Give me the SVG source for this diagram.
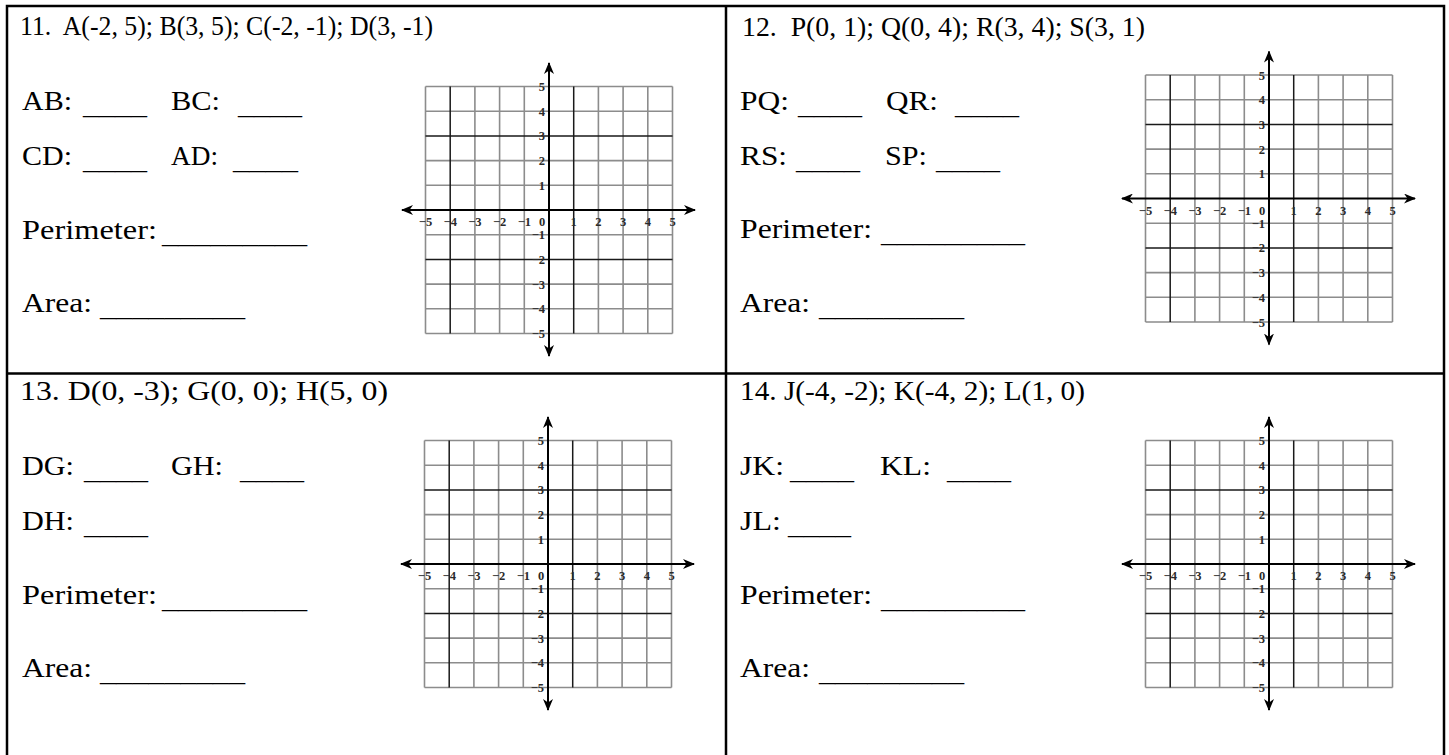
<svg xmlns="http://www.w3.org/2000/svg" xmlns:xlink="http://www.w3.org/1999/xlink" width="1449" height="755" viewBox="0 0 1449 755">
<style>
.h{font-family:"Liberation Serif","Times New Roman",serif;font-size:27px;fill:#000;white-space:pre}
.l{font-family:"Liberation Serif","Times New Roman",serif;font-size:26.5px;fill:#000}
.t{font-family:"Liberation Serif","Times New Roman",serif;font-size:12.5px;font-weight:bold;fill:#2a2a2a}
.tx{text-anchor:middle}
.ty{text-anchor:end}
.frame{fill:none;stroke:#000;stroke-width:2.5}
.gl{fill:none;stroke:#8c8c8c;stroke-width:1.6}
.gd{fill:none;stroke:#1a1a1a;stroke-width:1.5}
.ax{fill:none;stroke:#000;stroke-width:2;marker-start:url(#ah);marker-end:url(#ah)}
</style>
<defs>
<marker id="ah" viewBox="0 0 12 10" refX="11" refY="5" markerWidth="12" markerHeight="10" markerUnits="userSpaceOnUse" orient="auto-start-reverse">
<path d="M0,0 L12,5 L0,10 L3.5,5 Z" fill="#000"/>
</marker>
<g id="grid">
<path class="gl" d="M-123.5 -123.5V123.5M-74.1 -123.5V123.5M-49.4 -123.5V123.5M-24.7 -123.5V123.5M49.4 -123.5V123.5M74.1 -123.5V123.5M98.8 -123.5V123.5M123.5 -123.5V123.5M-123.5 -123.5H123.5M-123.5 -98.8H123.5M-123.5 -49.4H123.5M-123.5 -24.7H123.5M-123.5 24.7H123.5M-123.5 74.1H123.5M-123.5 98.8H123.5M-123.5 123.5H123.5"/>
<path class="gd" d="M-98.8 -123.5V123.5M24.7 -123.5V123.5M-123.5 -74.1H123.5M-123.5 49.4H123.5"/>
<path class="ax" d="M0 -147V146"/>
<path class="ax" d="M-147 0H146"/>
</g>
</defs>
<rect width="1449" height="755" fill="#fff"/>

<g id="frame">
<rect class="frame" x="7" y="6" width="1437" height="760"/>
<line class="frame" x1="726" y1="6" x2="726" y2="755"/>
<line class="frame" x1="7" y1="373.5" x2="1444" y2="373.5"/>
</g>

<!-- Panel 11 -->
<g id="p11">
<text class="h" x="20" y="35" xml:space="preserve" textLength="413" lengthAdjust="spacingAndGlyphs">11.  A(-2, 5); B(3, 5); C(-2, -1); D(3, -1)</text>
<text class="l" x="22" y="110" textLength="50" lengthAdjust="spacingAndGlyphs">AB:</text>
<text class="l" x="83" y="114" textLength="64" lengthAdjust="spacingAndGlyphs">____</text>
<text class="l" x="171" y="110" textLength="49" lengthAdjust="spacingAndGlyphs">BC:</text>
<text class="l" x="238" y="114" textLength="64" lengthAdjust="spacingAndGlyphs">____</text>
<text class="l" x="22" y="165" textLength="50" lengthAdjust="spacingAndGlyphs">CD:</text>
<text class="l" x="83" y="169" textLength="64" lengthAdjust="spacingAndGlyphs">____</text>
<text class="l" x="171" y="165" textLength="47" lengthAdjust="spacingAndGlyphs">AD:</text>
<text class="l" x="233" y="169" textLength="65" lengthAdjust="spacingAndGlyphs">____</text>
<text class="l" x="22" y="239" textLength="135" lengthAdjust="spacingAndGlyphs">Perimeter:</text>
<text class="l" x="162" y="243" textLength="145" lengthAdjust="spacingAndGlyphs">_________</text>
<text class="l" x="22" y="312" textLength="70" lengthAdjust="spacingAndGlyphs">Area:</text>
<text class="l" x="100" y="316" textLength="145" lengthAdjust="spacingAndGlyphs">_________</text>
<g transform="translate(549 210)">
<use xlink:href="#grid" href="#grid"/>
<text class="t tx" x="-123.5" y="16">−5</text><text class="t tx" x="-98.8" y="16">−4</text><text class="t tx" x="-74.1" y="16">−3</text><text class="t tx" x="-49.4" y="16">−2</text><text class="t tx" x="-24.7" y="16">−1</text><text class="t tx" x="-7" y="16">0</text><text class="t tx" x="24.7" y="16">1</text><text class="t tx" x="49.4" y="16">2</text><text class="t tx" x="74.1" y="16">3</text><text class="t tx" x="98.8" y="16">4</text><text class="t tx" x="123.5" y="16">5</text>
<text class="t ty" x="-4" y="-119">5</text><text class="t ty" x="-4" y="-94.3">4</text><text class="t ty" x="-4" y="-69.6">3</text><text class="t ty" x="-4" y="-44.9">2</text><text class="t ty" x="-4" y="-20.2">1</text><text class="t ty" x="-4" y="29.2">−1</text><text class="t ty" x="-4" y="53.9">−2</text><text class="t ty" x="-4" y="78.6">−3</text><text class="t ty" x="-4" y="103.3">−4</text><text class="t ty" x="-4" y="128">−5</text>
</g>
</g>

<!-- Panel 12 -->
<g id="p12">
<text class="h" x="742" y="36" xml:space="preserve" textLength="403" lengthAdjust="spacingAndGlyphs">12.  P(0, 1); Q(0, 4); R(3, 4); S(3, 1)</text>
<text class="l" x="740" y="110" textLength="49" lengthAdjust="spacingAndGlyphs">PQ:</text>
<text class="l" x="798" y="114" textLength="64" lengthAdjust="spacingAndGlyphs">____</text>
<text class="l" x="886" y="110" textLength="52" lengthAdjust="spacingAndGlyphs">QR:</text>
<text class="l" x="955" y="114" textLength="64" lengthAdjust="spacingAndGlyphs">____</text>
<text class="l" x="740" y="165" textLength="47" lengthAdjust="spacingAndGlyphs">RS:</text>
<text class="l" x="796" y="169" textLength="64" lengthAdjust="spacingAndGlyphs">____</text>
<text class="l" x="885" y="165" textLength="42" lengthAdjust="spacingAndGlyphs">SP:</text>
<text class="l" x="936" y="169" textLength="64" lengthAdjust="spacingAndGlyphs">____</text>
<text class="l" x="740" y="238" textLength="132" lengthAdjust="spacingAndGlyphs">Perimeter:</text>
<text class="l" x="881" y="242" textLength="144" lengthAdjust="spacingAndGlyphs">_________</text>
<text class="l" x="740" y="312" textLength="70" lengthAdjust="spacingAndGlyphs">Area:</text>
<text class="l" x="819" y="316" textLength="145" lengthAdjust="spacingAndGlyphs">_________</text>
<g transform="translate(1269 198.5)">
<use xlink:href="#grid" href="#grid"/>
<text class="t tx" x="-123.5" y="16">−5</text><text class="t tx" x="-98.8" y="16">−4</text><text class="t tx" x="-74.1" y="16">−3</text><text class="t tx" x="-49.4" y="16">−2</text><text class="t tx" x="-24.7" y="16">−1</text><text class="t tx" x="-7" y="16">0</text><text class="t tx" x="24.7" y="16">1</text><text class="t tx" x="49.4" y="16">2</text><text class="t tx" x="74.1" y="16">3</text><text class="t tx" x="98.8" y="16">4</text><text class="t tx" x="123.5" y="16">5</text>
<text class="t ty" x="-4" y="-119">5</text><text class="t ty" x="-4" y="-94.3">4</text><text class="t ty" x="-4" y="-69.6">3</text><text class="t ty" x="-4" y="-44.9">2</text><text class="t ty" x="-4" y="-20.2">1</text><text class="t ty" x="-4" y="29.2">−1</text><text class="t ty" x="-4" y="53.9">−2</text><text class="t ty" x="-4" y="78.6">−3</text><text class="t ty" x="-4" y="103.3">−4</text><text class="t ty" x="-4" y="128">−5</text>
</g>
</g>

<!-- Panel 13 -->
<g id="p13">
<text class="h" x="20" y="400" xml:space="preserve" textLength="368" lengthAdjust="spacingAndGlyphs">13. D(0, -3); G(0, 0); H(5, 0)</text>
<text class="l" x="22" y="475" textLength="52" lengthAdjust="spacingAndGlyphs">DG:</text>
<text class="l" x="84" y="479" textLength="64" lengthAdjust="spacingAndGlyphs">____</text>
<text class="l" x="171" y="475" textLength="52" lengthAdjust="spacingAndGlyphs">GH:</text>
<text class="l" x="240" y="479" textLength="64" lengthAdjust="spacingAndGlyphs">____</text>
<text class="l" x="22" y="530" textLength="52" lengthAdjust="spacingAndGlyphs">DH:</text>
<text class="l" x="84" y="534" textLength="64" lengthAdjust="spacingAndGlyphs">____</text>
<text class="l" x="22" y="604" textLength="135" lengthAdjust="spacingAndGlyphs">Perimeter:</text>
<text class="l" x="162" y="608" textLength="145" lengthAdjust="spacingAndGlyphs">_________</text>
<text class="l" x="22" y="677" textLength="70" lengthAdjust="spacingAndGlyphs">Area:</text>
<text class="l" x="100" y="681" textLength="145" lengthAdjust="spacingAndGlyphs">_________</text>
<g transform="translate(548 564)">
<use xlink:href="#grid" href="#grid"/>
<text class="t tx" x="-123.5" y="16">−5</text><text class="t tx" x="-98.8" y="16">−4</text><text class="t tx" x="-74.1" y="16">−3</text><text class="t tx" x="-49.4" y="16">−2</text><text class="t tx" x="-24.7" y="16">−1</text><text class="t tx" x="-7" y="16">0</text><text class="t tx" x="24.7" y="16">1</text><text class="t tx" x="49.4" y="16">2</text><text class="t tx" x="74.1" y="16">3</text><text class="t tx" x="98.8" y="16">4</text><text class="t tx" x="123.5" y="16">5</text>
<text class="t ty" x="-4" y="-119">5</text><text class="t ty" x="-4" y="-94.3">4</text><text class="t ty" x="-4" y="-69.6">3</text><text class="t ty" x="-4" y="-44.9">2</text><text class="t ty" x="-4" y="-20.2">1</text><text class="t ty" x="-4" y="29.2">−1</text><text class="t ty" x="-4" y="53.9">−2</text><text class="t ty" x="-4" y="78.6">−3</text><text class="t ty" x="-4" y="103.3">−4</text><text class="t ty" x="-4" y="128">−5</text>
</g>
</g>

<!-- Panel 14 -->
<g id="p14">
<text class="h" x="740" y="400" xml:space="preserve" textLength="345" lengthAdjust="spacingAndGlyphs">14. J(-4, -2); K(-4, 2); L(1, 0)</text>
<text class="l" x="740" y="475" textLength="44" lengthAdjust="spacingAndGlyphs">JK:</text>
<text class="l" x="790" y="479" textLength="64" lengthAdjust="spacingAndGlyphs">____</text>
<text class="l" x="880" y="475" textLength="51" lengthAdjust="spacingAndGlyphs">KL:</text>
<text class="l" x="947" y="479" textLength="64" lengthAdjust="spacingAndGlyphs">____</text>
<text class="l" x="740" y="530" textLength="41" lengthAdjust="spacingAndGlyphs">JL:</text>
<text class="l" x="788" y="534" textLength="63" lengthAdjust="spacingAndGlyphs">____</text>
<text class="l" x="740" y="604" textLength="132" lengthAdjust="spacingAndGlyphs">Perimeter:</text>
<text class="l" x="881" y="608" textLength="144" lengthAdjust="spacingAndGlyphs">_________</text>
<text class="l" x="740" y="677" textLength="70" lengthAdjust="spacingAndGlyphs">Area:</text>
<text class="l" x="819" y="681" textLength="145" lengthAdjust="spacingAndGlyphs">_________</text>
<g transform="translate(1269 564)">
<use xlink:href="#grid" href="#grid"/>
<text class="t tx" x="-123.5" y="16">−5</text><text class="t tx" x="-98.8" y="16">−4</text><text class="t tx" x="-74.1" y="16">−3</text><text class="t tx" x="-49.4" y="16">−2</text><text class="t tx" x="-24.7" y="16">−1</text><text class="t tx" x="-7" y="16">0</text><text class="t tx" x="24.7" y="16">1</text><text class="t tx" x="49.4" y="16">2</text><text class="t tx" x="74.1" y="16">3</text><text class="t tx" x="98.8" y="16">4</text><text class="t tx" x="123.5" y="16">5</text>
<text class="t ty" x="-4" y="-119">5</text><text class="t ty" x="-4" y="-94.3">4</text><text class="t ty" x="-4" y="-69.6">3</text><text class="t ty" x="-4" y="-44.9">2</text><text class="t ty" x="-4" y="-20.2">1</text><text class="t ty" x="-4" y="29.2">−1</text><text class="t ty" x="-4" y="53.9">−2</text><text class="t ty" x="-4" y="78.6">−3</text><text class="t ty" x="-4" y="103.3">−4</text><text class="t ty" x="-4" y="128">−5</text>
</g>
</g>
</svg>
